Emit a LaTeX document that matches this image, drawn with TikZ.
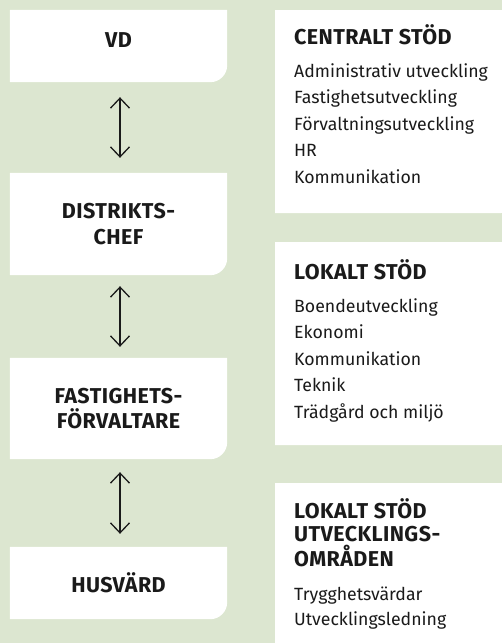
\documentclass[tikz,border=0pt]{standalone}
\usepackage{fontspec}
\setmainfont{Fira Sans}
\usetikzlibrary{arrows.meta,backgrounds}
\definecolor{bggreen}{HTML}{DCE6D0}
\definecolor{ink}{HTML}{1A1A1A}
\begin{document}
\begin{tikzpicture}[x=1pt,y=1pt,
  leftbox/.style={minimum width=217pt, inner sep=0pt, align=center,
    font=\fontsize{21.5}{25.5}\selectfont\bfseries\addfontfeature{LetterSpace=2}, text=ink},
  head/.style={anchor=base west, inner sep=0pt,
    font=\fontsize{21.5}{24}\selectfont\bfseries\addfontfeature{LetterSpace=2}, text=ink},
  body/.style={anchor=base west, inner sep=0pt,
    font=\fontsize{17.7}{20}\selectfont, text=ink},
  link/.style={draw=ink, line width=1.3pt,
    {Straight Barb[length=10pt,width=19pt]}-{Straight Barb[length=10pt,width=19pt]}}]
\useasboundingbox (0,0) rectangle (502,-643);
\clip (0,0) rectangle (502,-643);
% left column
\node[leftbox, minimum height=72pt, text depth=12pt] (vd) at (118.5,-46) {VD};
\node[leftbox, minimum height=102pt] (dc) at (118.5,-224) {DISTRIKTS-\\CHEF};
\node[leftbox, minimum height=101pt] (fv) at (118.5,-408.5) {FASTIGHETS-\\FÖRVALTARE};
\node[leftbox, minimum height=72pt] (hv) at (118.5,-583) {HUSVÄRD};
\draw[link, shorten <=15pt, shorten >=15pt] ([xshift=1.5pt]vd.south) -- ([xshift=1.5pt]dc.north);
\draw[link, shorten <=11pt, shorten >=11pt] ([xshift=1.5pt]dc.south) -- ([xshift=1.5pt]fv.north);
\draw[link, shorten <=13pt, shorten >=13pt] ([xshift=1.5pt]fv.south) -- ([xshift=1.5pt]hv.north);
% right column
\node[head] (cs) at (294,-44) {CENTRALT STÖD};
\foreach \t [count=\i] in {Administrativ utveckling, Fastighetsutveckling, Förvaltningsutveckling, HR, Kommunikation}
  \node[body] (cs\i) at (294,{-77-(\i-1)*26.5}) {\t};
\node[head] (ls) at (294,-279) {LOKALT STÖD};
\foreach \t [count=\i] in {Boendeutveckling, Ekonomi, Kommunikation, Teknik, Trädgård och miljö}
  \node[body] (ls\i) at (294,{-312-(\i-1)*26.5}) {\t};
\node[head] (lu1) at (294,-518) {LOKALT STÖD};
\node[head] (lu2) at (294,-541.5) {UTVECKLINGS-};
\node[head] (lu3) at (294,-566) {OMRÅDEN};
\node[body] (lub1) at (294,-600) {Trygghetsvärdar};
\node[body] (lub2) at (294,-625) {Utvecklingsledning};
\begin{pgfonlayer}{background}
  \fill[bggreen] (0,0) rectangle (502,-643);
  \foreach \n in {vd,dc,fv,hv}
    \fill[white] (\n.north west) -- (\n.north east) -- ([yshift=17pt]\n.south east)
      arc[start angle=0,end angle=-90,radius=17] -- (\n.south west) -- cycle;
  \fill[white] (275,-10) -- (518,-10) -- (518,-196) arc[start angle=0,end angle=-90,radius=17] -- (275,-213) -- cycle;
  \fill[white] (275,-242) -- (518,-242) -- (518,-428) arc[start angle=0,end angle=-90,radius=17] -- (275,-445) -- cycle;
  \fill[white] (275,-483) rectangle (518,-660);
\end{pgfonlayer}
\end{tikzpicture}
\end{document}
